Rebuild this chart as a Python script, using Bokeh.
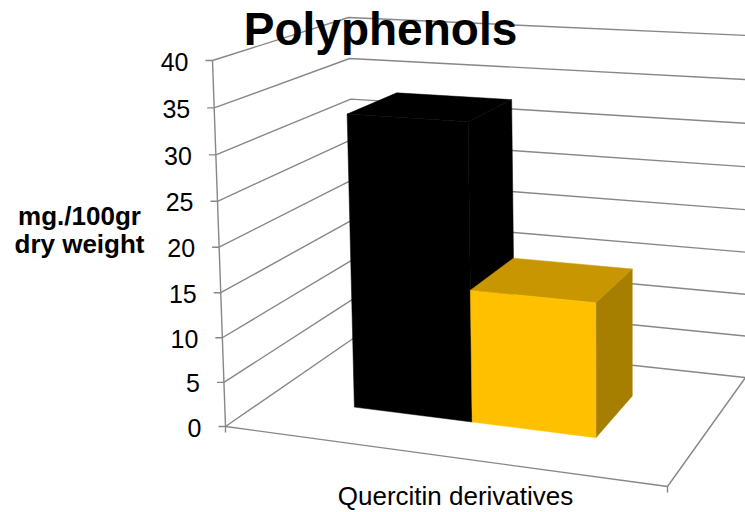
from bokeh.plotting import figure
from bokeh.models import Range1d
from bokeh.embed import file_html
from bokeh.resources import INLINE
from bokeh.core.properties import value

# ---------------- data ----------------
title = "Polyphenols"
categories = ["Quercitin derivatives"]
series_names = ["Series 1", "Series 2"]
series_black = [33.1]
series_gold = [14.8]
y_ticks = [0, 5, 10, 15, 20, 25, 30, 35, 40]
y_label_lines = ["mg./100gr", "dry weight"]
VMAX = 40

# ---------------- scene geometry (layout only) ----------------
# screen positions of the chart box corners (v=0 / v=VMAX)
FL0, FR0, BL0, BR0 = (225, 426), (667, 486), (357, 335), (745, 377)
FL1, FR1, BL1, BR1 = (212, 60), (670, 84), (348, 17), (748, 35)
CORNERS = [((0, 0, 0), FL0), ((1, 0, 0), FR0), ((0, 1, 0), BL0), ((1, 1, 0), BR0),
           ((0, 0, 1), FL1), ((1, 0, 1), FR1), ((0, 1, 1), BL1), ((1, 1, 1), BR1)]


def depth(u, w, t):
    return 1 - 0.088 * u + 0.158 * w - 0.04 * t


def proj(u, w, v):
    t = v / VMAX
    sx = sy = sw = 0.0
    for (cu, cw, ct), (px, py) in CORNERS:
        b = (u if cu else 1 - u) * (w if cw else 1 - w) * (t if ct else 1 - t)
        z = depth(cu, cw, ct)
        sx += b * z * px
        sy += b * z * py
        sw += b * z
    return sx / sw, sy / sw


def poly(pts):
    ps = [proj(*p) for p in pts]
    return [q[0] for q in ps], [q[1] for q in ps]


BAR_START = 0.215
BAR_W = 0.285
DEPTH0, DEPTH1 = 0.30, 0.70

W, H = 745, 512
p = figure(width=W, height=H, x_range=Range1d(0, W), y_range=Range1d(H, 0),
           output_backend="svg", toolbar_location=None, min_border=0,
           x_axis_location=None, y_axis_location=None)
p.grid.visible = False
p.outline_line_color = None
p.background_fill_color = "white"
p.border_fill_color = "white"

GRID = "#878787"

# walls gridlines
gx, gy = [], []
for v in y_ticks:
    xs, ys = poly([(0, 0, v), (0, 1, v), (1, 1, v)])
    gx.append(xs)
    gy.append(ys)
# floor edges and value axis
for seg in ([(0, 0, 0), (1, 0, 0), (1, 1, 0)], [(0, 0, 0), (0, 0, VMAX)]):
    xs, ys = poly(seg)
    gx.append(xs)
    gy.append(ys)
# tick marks on value axis
for v in y_ticks:
    x0, y0 = proj(0, 0, v)
    gx.append([x0, x0 - 7])
    gy.append([y0, y0])
# category ticks
for u in (0, 1):
    x0, y0 = proj(u, 0, 0)
    gx.append([x0, x0])
    gy.append([y0, y0 + 6])
p.multi_line(gx, gy, line_color=GRID, line_width=1.4)

# bars
colors = [("#000000", "#000000", "#000000"), ("#FFC000", "#C89600", "#A67E00")]
series = [series_black, series_gold]
ncat = len(categories)
for ci in range(ncat):
    for si, vals in enumerate(series):
        v = vals[ci]
        u0 = (ci + BAR_START + si * BAR_W) / ncat
        u1 = (ci + BAR_START + (si + 1) * BAR_W) / ncat
        front_c, top_c, side_c = colors[si]
        faces = [
            ([(u1, DEPTH0, 0), (u1, DEPTH1, 0), (u1, DEPTH1, v), (u1, DEPTH0, v)], side_c),
            ([(u0, DEPTH0, v), (u1, DEPTH0, v), (u1, DEPTH1, v), (u0, DEPTH1, v)], top_c),
            ([(u0, DEPTH0, 0), (u1, DEPTH0, 0), (u1, DEPTH0, v), (u0, DEPTH0, v)], front_c),
        ]
        for pts, col in faces:
            xs, ys = poly(pts)
            p.patch(xs, ys, fill_color=col, line_color=col, line_width=0.5)

FONT = value("Liberation Sans")

# tick labels
tx, ty, tt = [], [], []
for v in y_ticks:
    x0, y0 = proj(0, 0, v)
    tx.append(x0 - 24)
    ty.append(y0 + 1)
    tt.append(str(v))
p.text(tx, ty, text=tt, text_font=FONT, text_font_size="25px",
       text_align="right", text_baseline="middle", text_color="#000000")

# category label
cx = (proj(0, 0, 0)[0] + proj(1, 0, 0)[0]) / 2 + 9
p.text([cx], [495], text=[categories[0]], text_font=FONT,
       text_font_size="26px", text_align="center", text_baseline="middle",
       text_color="#000000")

# y label
p.text([79, 79], [215, 243], text=y_label_lines, text_font=FONT,
       text_font_size="26px", text_font_style="bold", text_align="center",
       text_baseline="middle", text_color="#000000")

# title
p.text([380], [28], text=[title], text_font=FONT,
       text_font_size="46px", text_font_style="bold", text_align="center",
       text_baseline="middle", text_color="#000000")

open("out.html", "w").write(file_html(p, INLINE))
